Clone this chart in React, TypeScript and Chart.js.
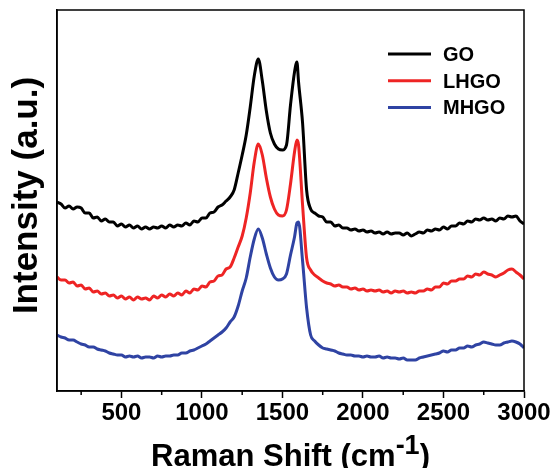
import React, { useEffect, useRef } from 'react';
import { Chart, registerables } from 'chart.js';

Chart.register(...registerables);

// Raman shift (cm-1)
const ramanShift = [
  100, 125, 150, 175, 200, 225, 250, 275, 300, 325,
  350, 375, 400, 425, 450, 475, 500, 525, 550, 575,
  600, 625, 650, 675, 700, 725, 750, 775, 800, 825,
  850, 875, 900, 925, 950, 975, 1000, 1025, 1050, 1075,
  1100, 1125, 1150, 1175, 1200, 1225, 1250, 1275, 1300, 1325,
  1350, 1375, 1400, 1425, 1450, 1475, 1500, 1525, 1550, 1575,
  1590, 1600, 1625, 1650, 1675, 1700, 1725, 1750, 1775, 1800,
  1825, 1850, 1875, 1900, 1925, 1950, 1975, 2000, 2025, 2050,
  2075, 2100, 2125, 2150, 2175, 2200, 2225, 2250, 2275, 2300,
  2325, 2350, 2375, 2400, 2425, 2450, 2475, 2500, 2525, 2550,
  2575, 2600, 2625, 2650, 2675, 2700, 2725, 2750, 2775, 2800,
  2825, 2850, 2875, 2900, 2925, 2950, 2975, 3000,
];

// Intensities (a.u., stacked offsets as in the figure)
const goIntensity = [
  189, 187, 183, 185, 182, 184, 183, 178, 178, 173,
  174, 170, 172, 169, 169, 165, 167, 164, 166, 163,
  165, 162, 164, 162, 164, 163, 165, 163, 166, 164,
  166, 165, 168, 166, 170, 169, 173, 173, 178, 179,
  184, 186, 190, 194, 201, 218, 236, 256, 284, 315,
  332, 310, 280, 258, 247, 242, 241, 246, 286, 319,
  329, 309, 268, 201, 182, 178, 175, 174, 169, 169,
  165, 166, 163, 163, 161, 162, 160, 161, 159, 160,
  158, 159, 157, 159, 157, 158, 158, 156, 158, 155,
  157, 159, 158, 161, 160, 162, 161, 164, 162, 165,
  165, 168, 167, 170, 169, 172, 171, 173, 171, 172,
  170, 173, 172, 175, 174, 175, 170, 167,
];

const lhgoIntensity = [
  114, 111, 111, 108, 109, 105, 106, 102, 103, 99,
  100, 97, 98, 95, 96, 93, 95, 92, 94, 91,
  94, 92, 93, 91, 95, 93, 96, 94, 97, 95,
  98, 96, 100, 98, 102, 101, 105, 104, 109, 110,
  115, 116, 122, 124, 133, 144, 155, 173, 198, 229,
  247, 236, 213, 194, 182, 176, 175, 181, 207, 239,
  251, 246, 186, 133, 121, 116, 113, 110, 108, 107,
  105, 106, 104, 104, 102, 103, 101, 102, 100, 101,
  100, 101, 99, 100, 98, 100, 99, 100, 98, 99,
  98, 100, 100, 102, 101, 104, 104, 108, 107, 110,
  110, 112, 112, 115, 114, 117, 116, 119, 117, 116,
  114, 116, 118, 121, 122, 119, 116, 112,
];

const mhgoIntensity = [
  56, 54, 53, 51, 51, 49, 47, 46, 44, 44,
  42, 41, 40, 38, 37, 36, 36, 34, 35, 34,
  35, 33, 34, 34, 33, 35, 34, 35, 35, 36,
  36, 38, 38, 40, 41, 43, 45, 47, 50, 53,
  56, 59, 63, 69, 74, 85, 100, 113, 134, 152,
  162, 153, 137, 123, 114, 111, 112, 117, 136, 154,
  168, 169, 130, 83, 56, 50, 46, 43, 42, 41,
  40, 38, 37, 36, 36, 35, 35, 34, 35, 34,
  34, 35, 33, 34, 33, 33, 32, 33, 31, 31,
  31, 33, 34, 35, 36, 37, 38, 40, 39, 41,
  41, 43, 43, 45, 44, 46, 47, 49, 48, 47,
  46, 46, 48, 49, 50, 49, 47, 43,
];

const seriesLabels = ['GO', 'LHGO', 'MHGO'];
const seriesColors = ['#000000', '#ee2424', '#2f43a3'];
const xMajorTicks = [500, 1000, 1500, 2000, 2500, 3000];
const xMinorTicks = [250, 750, 1250, 1750, 2250, 2750];
const X_MIN = 100;
const X_MAX = 3000;
const Y_MIN = 0;
const Y_MAX = 381;

const FONT = '"Liberation Sans", Arial, Helvetica, sans-serif';

const decorPlugin = {
  id: 'decor',
  afterDraw(chart: any) {
    const { ctx, chartArea, scales } = chart;
    const { left, right, top, bottom } = chartArea;
    ctx.save();
    // frame
    ctx.strokeStyle = '#000';
    ctx.lineWidth = 1.5;
    ctx.strokeRect(left, top, right - left, bottom - top);
    // minor ticks
    ctx.beginPath();
    xMinorTicks.forEach((v) => {
      const px = scales.x.getPixelForValue(v);
      ctx.moveTo(px, bottom);
      ctx.lineTo(px, bottom + 4);
    });
    ctx.stroke();

    // legend
    seriesLabels.forEach((label, i) => {
      const y = top + 44 + i * 26.7;
      ctx.strokeStyle = seriesColors[i];
      ctx.lineWidth = 3;
      ctx.beginPath();
      ctx.moveTo(right - 136, y);
      ctx.lineTo(right - 93, y);
      ctx.stroke();
      ctx.fillStyle = '#000';
      ctx.font = `bold 20px ${FONT}`;
      ctx.textAlign = 'left';
      ctx.textBaseline = 'alphabetic';
      ctx.fillText(label, right - 81, y + 7);
    });

    // y title
    ctx.fillStyle = '#000';
    ctx.save();
    ctx.translate(37, (top + bottom) / 2 - 5);
    ctx.rotate(-Math.PI / 2);
    ctx.font = `bold 35px ${FONT}`;
    ctx.textAlign = 'center';
    ctx.textBaseline = 'alphabetic';
    ctx.fillText('Intensity (a.u.)', 0, 0);
    ctx.restore();

    // x title with superscript
    const mainFont = `bold 31px ${FONT}`;
    const supFont = `bold 27px ${FONT}`;
    const p1 = 'Raman Shift (cm';
    const p2 = '-1';
    const p3 = ')';
    ctx.font = mainFont;
    const w1 = ctx.measureText(p1).width;
    const w3 = ctx.measureText(p3).width;
    ctx.font = supFont;
    const w2 = ctx.measureText(p2).width;
    const total = w1 + w2 + w3;
    let x = (left + right) / 2 - total / 2;
    const base = 466;
    ctx.textAlign = 'left';
    ctx.textBaseline = 'alphabetic';
    ctx.font = mainFont;
    ctx.fillText(p1, x, base);
    x += w1;
    ctx.font = supFont;
    ctx.fillText(p2, x, base - 12);
    x += w2;
    ctx.font = mainFont;
    ctx.fillText(p3, x, base);
    ctx.restore();
  },
};

export default function App() {
  const canvasRef = useRef<HTMLCanvasElement | null>(null);

  useEffect(() => {
    if (!canvasRef.current) return;
    const series = [goIntensity, lhgoIntensity, mhgoIntensity];
    const chart = new Chart(canvasRef.current, {
      type: 'line',
      data: {
        datasets: series.map((vals, i) => ({
          label: seriesLabels[i],
          data: ramanShift.map((x, j) => ({ x, y: vals[j] })),
          borderColor: seriesColors[i],
          borderWidth: 3,
          pointRadius: 0,
          cubicInterpolationMode: 'monotone',
          fill: false,
        })),
      },
      options: {
        animation: false,
        responsive: false,
        devicePixelRatio: 1,
        layout: { padding: { top: 10, right: 33, left: 0, bottom: 0 } },
        plugins: { legend: { display: false }, tooltip: { enabled: false } },
        scales: {
          x: {
            type: 'linear',
            min: X_MIN,
            max: X_MAX,
            afterBuildTicks: (s: any) => {
              s.ticks = xMajorTicks.map((v) => ({ value: v }));
            },
            afterFit: (s: any) => {
              s.height = 77;
            },
            grid: {
              display: true,
              drawOnChartArea: false,
              drawTicks: true,
              tickLength: 7,
              tickColor: '#000',
              tickWidth: 1.5,
              color: '#000',
            },
            border: { display: true, color: '#000', width: 1.5 },
            ticks: {
              color: '#000',
              padding: 1,
              maxRotation: 0,
              autoSkip: false,
              font: { family: FONT, size: 24, weight: 'bold' },
              callback: (v: any) => String(v),
            },
          },
          y: {
            min: Y_MIN,
            max: Y_MAX,
            afterFit: (s: any) => {
              s.width = 57;
            },
            ticks: { display: false },
            grid: { display: false },
            border: { display: true, color: '#000', width: 1.5 },
          },
        },
      } as any,
      plugins: [decorPlugin],
    });
    return () => chart.destroy();
  }, []);

  return (
    <div style={{ position: 'fixed', left: 0, top: 0, width: 557, height: 468, background: '#fff' }}>
      <canvas ref={canvasRef} width={557} height={468} style={{ display: 'block' }} />
    </div>
  );
}
